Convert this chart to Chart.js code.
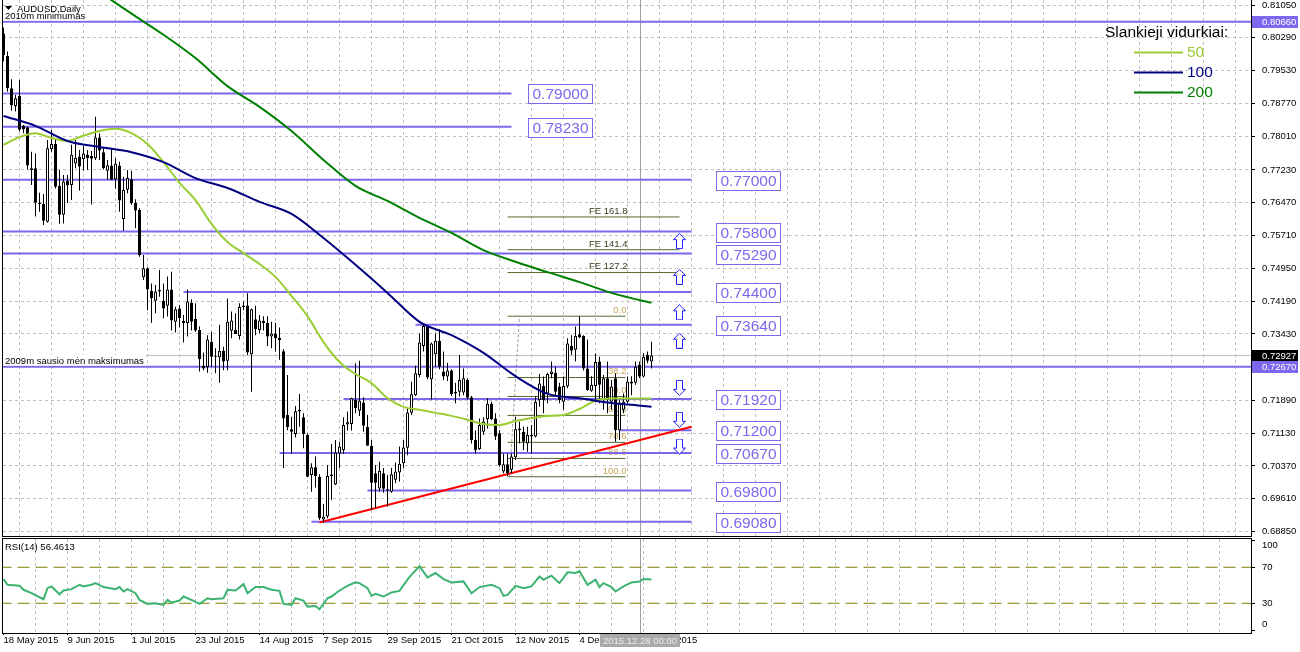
<!DOCTYPE html>
<html>
<head>
<meta charset="utf-8">
<title>AUDUSD, Daily</title>
<script src="https://cdn.jsdelivr.net/npm/chart.js@4.4.1/dist/chart.umd.min.js"></script>
<style>
  html, body { margin: 0; padding: 0; background: #fff; }
  canvas { position: absolute; left: 0; }
</style>
</head>
<body>
<canvas id="main" width="1300" height="537" style="top:0"></canvas>
<canvas id="rsi" width="1300" height="115" style="top:537px"></canvas>
<script>
/* global Chart */
(() => {
  // one label every 16 daily bars, first one on bar 0
  const dateLabels = ["18 May 2015", "9 Jun 2015", "1 Jul 2015", "23 Jul 2015", "14 Aug 2015",
    "7 Sep 2015", "29 Sep 2015", "21 Oct 2015", "12 Nov 2015", "4 Dec 2015", "29 Dec 2015"];
  const priceTicks = [0.8105, 0.8029, 0.7953, 0.7877, 0.7801, 0.7723, 0.7647, 0.7571, 0.7495,
    0.7419, 0.7343, 0.7267, 0.7189, 0.7113, 0.7037, 0.6961, 0.6885];
  const rsiTicks = [100, 70, 30, 0];

  // daily candles, bar 0 = 18 May 2015
  const opens = [
    .8039, .7987, .7912, .7871, .7894, .7825, .7822, .7723, .7727, .7647, .7644, .7603, .7771, .7783, .7686, .7619,
    .7697, .7688, .7738, .7754, .7748, .7758, .7755, .7750, .7798, .7764, .7721, .7733, .7701, .7733, .7609, .7677,
    .7701, .7646, .7630, .7474, .7495, .7443, .7420, .7441, .7419, .7408, .7446, .7371, .7402, .7373, .7368, .7415,
    .7378, .7352, .7269, .7266, .7325, .7291, .7289, .7304, .7281, .7350, .7352, .7338, .7409, .7409, .7296, .7377,
    .7352, .7373, .7368, .7337, .7344, .7334, .7303, .7155, .7122, .7111, .7167, .7150, .7109, .7016, .7034, .7012,
    .6913, .6920, .7017, .6994, .7066, .7074, .7133, .7134, .7190, .7165, .7184, .7127, .7084, .7020, .6985, .7020,
    .6983, .6977, .7005, .7022, .7043, .7079, .7160, .7201, .7248, .7315, .7360, .7238, .7296, .7327, .7256, .7244,
    .7258, .7209, .7209, .7207, .7236, .7196, .7097, .7076, .7116, .7145, .7181, .7147, .7113, .7024, .7041, .7028,
    .7057, .7120, .7116, .7089, .7105, .7105, .7190, .7222, .7205, .7250, .7253, .7221, .7186, .7221, .7315, .7306,
    .7342, .7338, .7263, .7211, .7222, .7279, .7190, .7240, .7186, .7240, .7120, .7167, .7186, .7228, .7230, .7271,
    .7244, .7294, .7279];
  const highs = [
    .8053, .7997, .7933, .7897, .7931, .7827, .7823, .7765, .7761, .7670, .7667, .7792, .7816, .7796, .7723, .7711,
    .7711, .7781, .7792, .7769, .7778, .7769, .7767, .7846, .7808, .7773, .7746, .7773, .7750, .7742, .7707, .7723,
    .7721, .7655, .7634, .7526, .7497, .7460, .7456, .7491, .7460, .7476, .7487, .7406, .7410, .7387, .7446, .7423,
    .7414, .7360, .7300, .7340, .7348, .7310, .7364, .7313, .7425, .7395, .7391, .7414, .7418, .7437, .7402, .7408,
    .7387, .7384, .7384, .7371, .7369, .7358, .7308, .7248, .7151, .7176, .7204, .7159, .7113, .7043, .7059, .7018,
    .6949, .7039, .7088, .7097, .7093, .7150, .7163, .7195, .7275, .7281, .7196, .7155, .7097, .7039, .7047, .7032,
    .7016, .7032, .7045, .7082, .7097, .7173, .7232, .7269, .7344, .7366, .7361, .7323, .7344, .7354, .7302, .7276,
    .7261, .7230, .7294, .7263, .7240, .7199, .7119, .7147, .7150, .7194, .7186, .7159, .7120, .7066, .7066, .7066,
    .7151, .7140, .7128, .7128, .7132, .7198, .7250, .7244, .7253, .7279, .7267, .7230, .7244, .7333, .7340, .7360,
    .7384, .7340, .7330, .7245, .7298, .7290, .7248, .7279, .7236, .7252, .7190, .7205, .7244, .7245, .7279, .7279,
    .7298, .7302, .7325];
  const lows = [
    .7974, .7904, .7860, .7858, .7812, .7808, .7724, .7688, .7615, .7626, .7595, .7601, .7765, .7680, .7598, .7599,
    .7646, .7653, .7727, .7675, .7721, .7723, .7643, .7746, .7746, .7724, .7700, .7700, .7680, .7626, .7582, .7669,
    .7642, .7588, .7522, .7468, .7398, .7369, .7391, .7429, .7379, .7383, .7351, .7346, .7358, .7323, .7337, .7351,
    .7348, .7256, .7259, .7253, .7267, .7252, .7230, .7259, .7259, .7333, .7343, .7330, .7398, .7294, .7209, .7340,
    .7344, .7351, .7315, .7310, .7302, .7283, .7032, .7120, .7065, .7103, .7128, .7078, .7011, .6977, .6987, .6912,
    .6906, .6916, .6958, .6993, .7032, .7065, .7119, .7119, .7159, .7153, .7116, .7084, .6935, .6939, .6977, .6975,
    .6943, .6975, .6997, .7001, .7032, .7062, .7155, .7199, .7242, .7302, .7238, .7191, .7267, .7261, .7236, .7234,
    .7199, .7182, .7198, .7201, .7191, .7089, .7065, .7074, .7109, .7124, .7143, .7097, .7035, .7020, .7014, .7020,
    .7051, .7089, .7074, .7070, .7065, .7103, .7174, .7159, .7182, .7240, .7198, .7182, .7167, .7217, .7294, .7279,
    .7333, .7258, .7211, .7209, .7190, .7182, .7167, .7159, .7167, .7093, .7097, .7159, .7182, .7201, .7225, .7240,
    .7242, .7275, .7263];
  const closes = [
    .7989, .7912, .7873, .7889, .7816, .7817, .7733, .7727, .7647, .7644, .7605, .7773, .7783, .7684, .7619, .7696,
    .7687, .7758, .7751, .7731, .7761, .7750, .7749, .7798, .7768, .7727, .7734, .7700, .7737, .7652, .7677, .7704,
    .7646, .7629, .7526, .7495, .7446, .7426, .7441, .7445, .7402, .7446, .7374, .7400, .7379, .7368, .7418, .7371,
    .7351, .7284, .7263, .7330, .7290, .7289, .7304, .7279, .7371, .7374, .7343, .7405, .7405, .7300, .7400, .7354,
    .7374, .7368, .7337, .7344, .7333, .7329, .7147, .7127, .7116, .7164, .7163, .7111, .7012, .7034, .7014, .6916,
    .6920, .7014, .7013, .7068, .7082, .7132, .7138, .7194, .7171, .7188, .7130, .7084, .6998, .6998, .7026, .6984,
    .6980, .7018, .7024, .7042, .7080, .7161, .7203, .7252, .7323, .7361, .7242, .7321, .7327, .7267, .7244, .7258,
    .7204, .7205, .7236, .7240, .7195, .7097, .7074, .7132, .7140, .7181, .7145, .7105, .7039, .7041, .7020, .7059,
    .7122, .7124, .7093, .7109, .7109, .7186, .7228, .7190, .7250, .7256, .7209, .7190, .7222, .7321, .7304, .7338,
    .7335, .7263, .7213, .7225, .7278, .7225, .7240, .7190, .7221, .7120, .7182, .7186, .7232, .7232, .7267, .7244,
    .7290, .7281, .72927];
  const lastPrice = 0.72927;

  // moving averages
  const ma50Bars = [0, 4, 8, 12, 16, 20, 24, 28, 32, 36, 40, 44, 48, 52, 56, 60, 64, 68, 72, 76, 80,
    84, 88, 92, 96, 100, 104, 108, 112, 116, 120, 124, 128, 132, 136, 140, 144, 148, 152, 156, 160, 162];
  const ma50 = [0.7781, 0.7799, 0.7808, 0.7797, 0.7790, 0.7802, 0.7813, 0.7818, 0.7808, 0.7783, 0.7741,
    0.7693, 0.7653, 0.7598, 0.7556, 0.7530, 0.7505, 0.7475, 0.7431, 0.7384, 0.7324, 0.7278, 0.7250,
    0.7229, 0.7194, 0.7174, 0.7167, 0.7160, 0.7153, 0.7144, 0.7134, 0.7132, 0.7141, 0.7148, 0.7153,
    0.7155, 0.7169, 0.7188, 0.7193, 0.7193, 0.7193, 0.7193];
  const maBars = [0, 8, 16, 24, 32, 40, 48, 56, 64, 72, 80, 88, 96, 104, 112, 120, 128, 136, 144, 152, 160, 162];
  const ma100 = [0.7848, 0.7825, 0.7790, 0.7776, 0.7764, 0.7741, 0.7704, 0.7681, 0.7649, 0.7621, 0.7565,
    0.7503, 0.7438, 0.7371, 0.7340, 0.7299, 0.7245, 0.7204, 0.7194, 0.7183, 0.7176, 0.7174];
  const ma200 = [0.8286, 0.8235, 0.8184, 0.8135, 0.8085, 0.8036, 0.7982, 0.7917, 0.7869, 0.7813, 0.7746,
    0.7686, 0.7651, 0.7612, 0.7577, 0.7537, 0.7510, 0.7486, 0.7463, 0.7438, 0.7419, 0.7415];

  // RSI(14)
  const rsiBars = [0, 1, 4, 5, 7, 10, 11, 12, 14, 15, 17, 19, 20, 22, 23, 25, 28, 29, 30, 31, 33, 34, 36, 38,
    40, 41, 42, 44, 45, 47, 49, 51, 52, 55, 56, 58, 60, 61, 63, 65, 67, 69, 70, 72, 73, 75, 76, 78, 79, 81,
    82, 84, 86, 88, 89, 91, 92, 93, 95, 97, 99, 101, 102, 104, 106, 108, 110, 112, 115, 117, 119, 122, 124,
    125, 126, 128, 130, 132, 134, 135, 137, 139, 141, 143, 144, 146, 148, 149, 150, 152, 153, 155, 157,
    159, 160, 162];
  const rsiValues = [56.9, 50.6, 49.4, 45, 41.2, 34.5, 46.8, 48.7, 40, 44.2, 45.7, 50.6, 48.7, 50.6, 52.4,
    48, 45.7, 48, 43.1, 45.7, 41.2, 33.7, 29.3, 30, 28.1, 33.7, 30.7, 33, 37.5, 33.7, 29.3, 35.6, 34.5,
    35.6, 45, 44.2, 51.3, 41.2, 48, 48, 45, 43.8, 29.3, 28.1, 35.6, 33, 26.3, 27, 23.3, 35.6, 37.5, 44.2,
    49.4, 53.2, 52.4, 46.8, 38.2, 40.5, 37.5, 42, 43.8, 56.2, 61.8, 71.1, 58.8, 63.6, 56.9, 53.2, 54.3,
    41.2, 48, 50.6, 46.8, 38.2, 39.3, 49.4, 46.8, 48.7, 59.9, 56.2, 60.7, 52.4, 64.4, 63.6, 65.5, 50.6,
    56.2, 48, 52.4, 48, 43.1, 48.7, 53.2, 54.3, 56.9, 56.5];
  const rsiLast = 56.4613;
  const rsiLevels = [70, 30];

  // drawn objects
  const levelValues = [0.8066, 0.7900, 0.7823, 0.7700, 0.7580, 0.7529, 0.7440, 0.7364, 0.7267,
    0.7192, 0.7120, 0.7067, 0.6980, 0.6908];
  const levelNotes = { 0.8066: "2010m minimumas", 0.7267: "2009m sausio mėn maksimumas" };
  const fibHigh = 0.7384;
  const fibLow = 0.7012;
  const fibRatios = [0, 38.2, 50, 61.8, 78.6, 88.6, 100];
  const feRatios = [127.2, 141.4, 161.8];
  const trendValues = [0.6906, 0.7128];
  const arrowsUp = [0.7558, 0.7475, 0.7393, 0.7327];
  const arrowsDown = [0.7218, 0.7144, 0.7082];
  const vlineDate = "2015.12.28 00:00";

  // ---- layout (bar positions / styles) ----
  const FONT = '"Liberation Sans", Arial, sans-serif';
  const colors = {
    grid: "#c0c0c0",
    level: "#7b68ee",
    fib: "#556b2f",
    fibText: "#c8a45a",
    ma50: "#9acd32",
    ma100: "#000080",
    ma200: "#008000",
    rsi: "#3cb371",
    rsiLevel: "#808000",
    arrow: "#1f1fff",
  };
  const X_MIN = -0.125;
  const X_MAX = 311.875;
  const AXIS_W = 49;
  // [from bar, to bar, label box bar]
  const levelLayout = [
    [-1, 313, null], [-1, 127, 131.1], [-1, 127, 131.1], [-1, 172, 178.1], [-1, 172, 178.1],
    [-1, 172, 178.1], [45, 172, 178.1], [103, 172, 178.1], [-1, 313, null], [85, 172, 178.1],
    [154, 172, 178.1], [69, 172, 178.1], [91, 172, 178.1], [77, 172, 178.1],
  ];
  const FIB_FROM = 126;
  const FIB_TO = 155.5;
  const FE_TO = 169;
  const TREND_FROM = 79;
  const TREND_TO = 172;
  const ARROW_BAR = 169;
  const VLINE_BAR = 159;

  const gridBars = [];
  for (let b = 0; b < X_MAX; b += 8) gridBars.push(b);

  const xy = (xs, ys) => xs.map((x, i) => ({ x, y: ys[i] }));
  const hline = (v, from, to) => [{ x: from, y: v }, { x: to, y: v }];
  const fibValue = (r) => fibHigh - (r / 100) * (fibHigh - fibLow);
  const feValue = (r) => fibLow + (r / 100) * (fibHigh - fibLow);
  const font = (size) => `${size}px ${FONT}`;
  const isLabelTick = (v) => v % 16 === 0 && v / 16 < dateLabels.length;

  function makeArrow(up) {
    const c = document.createElement("canvas");
    c.width = 13;
    c.height = 16;
    const g = c.getContext("2d");
    const pts = [[6.5, 0.5], [12.5, 6.5], [9.5, 6.5], [9.5, 15.5], [3.5, 15.5], [3.5, 6.5], [0.5, 6.5]];
    g.beginPath();
    pts.forEach(([px, py], i) => {
      const yy = up ? py : 16 - py;
      if (i === 0) g.moveTo(px, yy);
      else g.lineTo(px, yy);
    });
    g.closePath();
    g.fillStyle = "#fff";
    g.fill();
    g.strokeStyle = colors.arrow;
    g.lineWidth = 1;
    g.stroke();
    return c;
  }

  const flat = (data, color, width, order, extra) => ({
    type: "line", data, borderColor: color, borderWidth: width, pointRadius: 0, order, ...extra,
  });

  const datasets = [];
  levelValues.forEach((v, i) => {
    datasets.push(flat(hline(v, levelLayout[i][0], levelLayout[i][1]), colors.level, 2, 10));
  });
  datasets.push(flat(hline(lastPrice, -1, 313), "#c0c0c0", 1, 12));
  fibRatios.forEach((r) => datasets.push(flat(hline(fibValue(r), FIB_FROM, FIB_TO), colors.fib, 1, 11)));
  feRatios.forEach((r) => datasets.push(flat(hline(feValue(r), FIB_FROM, FE_TO), colors.fib, 1, 11)));
  datasets.push(flat([{ x: FIB_FROM + 0.5, y: fibLow }, { x: FIB_FROM + 3, y: fibHigh }], "#a0a0a0", 1, 11,
    { borderDash: [3, 2] }));
  datasets.push(flat([{ x: TREND_FROM, y: trendValues[0] }, { x: TREND_TO, y: trendValues[1] }], "#ff0000", 2, 9));

  datasets.push({
    type: "bar",
    data: lows.map((l, i) => ({ x: i, y: [l, highs[i]] })),
    backgroundColor: "#000",
    borderWidth: 0,
    barThickness: 1,
    grouped: false,
    inflateAmount: 0,
    order: 6,
  });
  datasets.push({
    type: "bar",
    data: opens.map((o, i) => ({ x: i, y: [o, closes[i]] })),
    backgroundColor: (c) => (closes[c.dataIndex] >= opens[c.dataIndex] ? "#fff" : "#000"),
    borderColor: "#000",
    borderWidth: 1,
    borderSkipped: false,
    barThickness: 3,
    minBarLength: 1,
    grouped: false,
    inflateAmount: 0,
    order: 5,
  });

  const maOpts = { cubicInterpolationMode: "monotone" };
  datasets.push(flat(xy(maBars, ma200), colors.ma200, 2, 3, maOpts));
  datasets.push(flat(xy(maBars, ma100), colors.ma100, 2, 3, maOpts));
  datasets.push(flat(xy(ma50Bars, ma50), colors.ma50, 2, 3, maOpts));

  const upImg = makeArrow(true);
  const downImg = makeArrow(false);
  datasets.push({
    type: "line", showLine: false, order: 1, pointStyle: upImg, pointRadius: 8,
    data: arrowsUp.map((v) => ({ x: ARROW_BAR, y: v })),
  });
  datasets.push({
    type: "line", showLine: false, order: 1, pointStyle: downImg, pointRadius: 8,
    data: arrowsDown.map((v) => ({ x: ARROW_BAR, y: v })),
  });

  const frame = (ctx, a) => {
    ctx.strokeStyle = "#000";
    ctx.lineWidth = 1;
    ctx.strokeRect(a.left - 0.5, a.top - 0.5, a.right - a.left + 1, a.bottom - a.top + 1);
  };

  const mainOverlay = {
    id: "mainOverlay",
    beforeDatasetsDraw(chart) {
      const { ctx, chartArea: a, scales: { x, y } } = chart;
      ctx.save();
      // vertical line object
      const vx = Math.round(x.getPixelForValue(VLINE_BAR)) + 0.5;
      ctx.strokeStyle = "#a0a0a0";
      ctx.beginPath();
      ctx.moveTo(vx, a.top);
      ctx.lineTo(vx, a.bottom);
      ctx.stroke();
      // fibo labels (sit under the candles)
      ctx.font = font(9.5);
      ctx.textAlign = "right";
      ctx.textBaseline = "bottom";
      ctx.fillStyle = colors.fibText;
      const fx = x.getPixelForValue(FIB_TO) + 1;
      fibRatios.forEach((r) => ctx.fillText(r.toFixed(1), fx, y.getPixelForValue(fibValue(r)) - 1));
      ctx.fillStyle = "#3c3c1e";
      feRatios.forEach((r) => ctx.fillText(`FE ${r.toFixed(1)}`, fx + 1, y.getPixelForValue(feValue(r)) - 1));
      ctx.restore();
    },
    afterDatasetsDraw(chart) {
      const { ctx, chartArea: a, scales: { x, y } } = chart;
      ctx.save();
      ctx.textBaseline = "middle";
      ctx.textAlign = "left";
      ctx.font = font(9.5);

      // level notes
      levelValues.forEach((v) => {
        const note = levelNotes[v];
        if (!note) return;
        const py = y.getPixelForValue(v);
        const w = ctx.measureText(note).width;
        ctx.fillStyle = "#fff";
        ctx.fillRect(a.left, Math.round(py) - 12, w + 4, 10.5);
        ctx.fillStyle = "#000";
        ctx.fillText(note, a.left + 2, py - 5);
      });

      // header
      ctx.fillStyle = "#000";
      ctx.beginPath();
      ctx.moveTo(5, 6);
      ctx.lineTo(12, 6);
      ctx.lineTo(8.5, 10);
      ctx.closePath();
      ctx.fill();
      ctx.fillText("AUDUSD,Daily", 17, 9);

      // level price boxes
      ctx.font = font(15.5);
      levelValues.forEach((v, i) => {
        const lb = levelLayout[i][2];
        if (lb == null) return;
        const text = v.toFixed(5);
        const w = Math.round(ctx.measureText(text).width) + 8;
        const px = Math.round(x.getPixelForValue(lb)) + 0.5;
        const py = Math.round(y.getPixelForValue(v)) + 0.5;
        ctx.fillStyle = "#fff";
        ctx.fillRect(px, py - 9, w, 19);
        ctx.strokeStyle = colors.level;
        ctx.lineWidth = 1;
        ctx.strokeRect(px, py - 9, w, 19);
        ctx.fillStyle = colors.level;
        ctx.fillText(text, px + 4, py + 1);
      });

      // legend
      ctx.fillStyle = "#000";
      ctx.fillText("Slankieji vidurkiai:", 1105, 33);
      [["50", colors.ma50, 52.5], ["100", colors.ma100, 72.5], ["200", colors.ma200, 92.5]].forEach(([t, c, ly]) => {
        ctx.strokeStyle = c;
        ctx.lineWidth = 2;
        ctx.beginPath();
        ctx.moveTo(1134, ly);
        ctx.lineTo(1183, ly);
        ctx.stroke();
        ctx.fillStyle = c;
        ctx.fillText(t, 1187, ly);
      });

      frame(ctx, a);

      // price tags on the axis
      ctx.font = font(9.5);
      const tag = (v, bg) => {
        const py = Math.round(y.getPixelForValue(v));
        ctx.fillStyle = bg;
        ctx.fillRect(a.right + 1, py - 6, 46, 12);
        ctx.fillStyle = "#fff";
        ctx.fillText(v.toFixed(5), a.right + 11, py);
      };
      tag(levelValues[0], colors.level);
      tag(lastPrice, "#000");
      tag(levelValues[8], colors.level);
      ctx.restore();
    },
  };

  const baseX = {
    type: "linear",
    min: X_MIN,
    max: X_MAX,
    offset: false,
    afterBuildTicks: (s) => {
      s.ticks = gridBars.map((v) => ({ value: v }));
    },
    grid: {
      color: (c) => (c.tick && c.tick.value === 0 ? "rgba(0,0,0,0)" : colors.grid),
    },
    border: { display: false, dash: [3, 3] },
  };

  // eslint-disable-next-line no-new
  new Chart(document.getElementById("main"), {
    type: "bar",
    data: { datasets },
    plugins: [mainOverlay],
    options: {
      responsive: false,
      animation: false,
      events: [],
      layout: { autoPadding: false, padding: { left: 3, right: 0, top: 0, bottom: 1 } },
      plugins: { legend: { display: false }, tooltip: { enabled: false } },
      scales: {
        x: {
          ...baseX,
          ticks: { display: false },
          grid: { ...baseX.grid, drawTicks: false },
          afterFit: (s) => {
            s.height = 0;
            s.paddingLeft = 0;
            s.paddingRight = 0;
          },
        },
        y: {
          position: "right",
          min: 0.68747,
          max: 0.81166,
          afterBuildTicks: (s) => {
            s.ticks = priceTicks.map((v) => ({ value: v }));
          },
          afterFit: (s) => {
            s.width = AXIS_W;
            s.paddingTop = 0;
            s.paddingBottom = 0;
          },
          ticks: {
            autoSkip: false,
            color: "#000",
            padding: 7,
            font: { family: FONT, size: 9.5 },
            callback: (v) => Number(v).toFixed(5),
          },
          grid: { color: colors.grid, tickLength: 4, tickColor: "#000", tickBorderDash: [] },
          border: { display: false, dash: [3, 3] },
        },
      },
    },
  });

  const rsiOverlay = {
    id: "rsiOverlay",
    beforeDatasetsDraw(chart) {
      const { ctx, chartArea: a, scales: { x } } = chart;
      const vx = Math.round(x.getPixelForValue(VLINE_BAR)) + 0.5;
      ctx.save();
      ctx.strokeStyle = "#a0a0a0";
      ctx.beginPath();
      ctx.moveTo(vx, a.top);
      ctx.lineTo(vx, a.bottom);
      ctx.stroke();
      ctx.restore();
    },
    afterDraw(chart) {
      const { ctx, chartArea: a, scales: { x, y } } = chart;
      ctx.save();
      frame(ctx, a);
      ctx.font = font(9.5);
      ctx.textBaseline = "middle";
      ctx.fillStyle = "#000";
      ctx.fillText(`RSI(14) ${rsiLast.toFixed(4)}`, 5, 10);
      // axis labels, kept inside the panel like the terminal does
      rsiTicks.forEach((v) => {
        const py = Math.min(Math.max(y.getPixelForValue(v), a.top + 6), a.bottom - 9);
        ctx.fillText(String(v), a.right + 11, py);
      });
      // date tag of the vertical line
      const vx = Math.round(x.getPixelForValue(VLINE_BAR));
      const w = ctx.measureText(vlineDate).width + 6;
      ctx.fillStyle = "#a9a9a9";
      ctx.fillRect(vx - w / 2, a.bottom + 1, w, 13);
      ctx.fillStyle = "#ececec";
      ctx.textAlign = "center";
      ctx.fillText(vlineDate, vx, a.bottom + 8);
      ctx.restore();
    },
  };

  // eslint-disable-next-line no-new
  new Chart(document.getElementById("rsi"), {
    type: "line",
    data: {
      datasets: [
        flat(xy(rsiBars, rsiValues), colors.rsi, 2, 1),
        ...rsiLevels.map((v) => flat(hline(v, -1, 313), colors.rsiLevel, 1, 2, { borderDash: [12, 6] })),
      ],
    },
    plugins: [rsiOverlay],
    options: {
      responsive: false,
      animation: false,
      events: [],
      layout: { autoPadding: false, padding: { left: 3, right: 0, top: 2, bottom: 0 } },
      plugins: { legend: { display: false }, tooltip: { enabled: false } },
      scales: {
        x: {
          ...baseX,
          afterFit: (s) => {
            s.height = 19;
            s.paddingLeft = 0;
            s.paddingRight = 0;
          },
          ticks: {
            autoSkip: false,
            maxRotation: 0,
            minRotation: 0,
            align: "start",
            padding: 0,
            color: "#000",
            font: { family: FONT, size: 9.5 },
            callback: (v) => (isLabelTick(v) ? dateLabels[v / 16] : ""),
          },
          grid: {
            ...baseX.grid,
            tickLength: 2,
            tickColor: (c) => (c.tick && isLabelTick(c.tick.value) ? "#000" : "rgba(0,0,0,0)"),
            tickBorderDash: [],
          },
        },
        y: {
          position: "right",
          min: -3,
          max: 101.4,
          afterBuildTicks: (s) => {
            s.ticks = rsiTicks.map((v) => ({ value: v }));
          },
          afterFit: (s) => {
            s.width = AXIS_W;
            s.paddingTop = 0;
            s.paddingBottom = 0;
          },
          ticks: { display: false },
          grid: { drawOnChartArea: false, tickLength: 4, tickColor: "#000" },
          border: { display: false },
        },
      },
    },
  });
})();
</script>
</body>
</html>
